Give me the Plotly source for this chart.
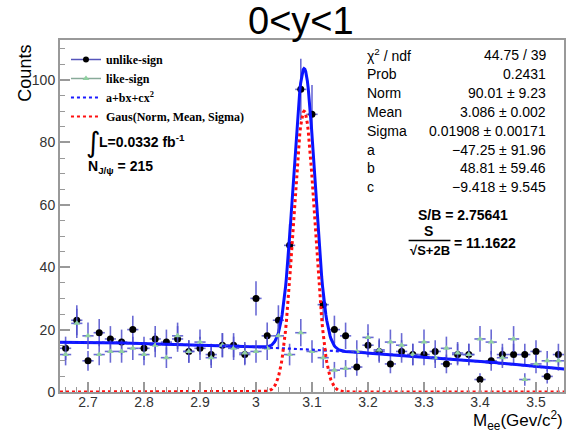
import numpy as np
import plotly.graph_objects as go

# ---------------- data ----------------
bin_centers = [round(2.66 + 0.02 * i, 2) for i in range(45)]
unlike_counts = [14, 23, 10, 19, 17, 16, 20, 14, 17, 16, 17, 13, 14, 12, 15, 15, 12, 30, 18, 23,
                 47, 97, 89, 28, 20, 18, 8, 15, 13, 9, 13, 12, 12, 13, 9, 12, 12, 4, 10, 12,
                 12, 12, 13, 5, 12]
like_counts = [12, 22, 18, 12, 13, 13, 14, 12, 15, 11, 18, 13, 16, 11, 15, 14, 12.5, 13, 14, 18,
               12, 19, 13, 11, 7, 7.5, 13, 17.5, 13.5, 16, 15, 12, 16, 11, 14, 12.5, 12, 17, 16, 11,
               17, 4, 9, 10, 10]
bin_half_width = 0.01

# fit parameters (from stats box)
fit_norm, fit_mean, fit_sigma = 90.01, 3.086, 0.01908
fit_a, fit_b, fit_c = -47.25, 48.81, -9.418

stat_labels = ["χ<sup>2</sup> / ndf", "Prob", "Norm", "Mean", "Sigma", "a", "b", "c"]
stat_values = ["44.75 / 39", "0.2431", "90.01 ± 9.23", "3.086 ± 0.002",
               "0.01908 ± 0.00171", "−47.25 ± 91.96", "48.81 ± 59.46", "−9.418 ± 9.545"]

legend_names = ["unlike-sign", "like-sign", "a+bx+cx<sup>2</sup>", "Gaus(Norm, Mean, Sigma)"]

x_ticks = [2.7, 2.8, 2.9, 3.0, 3.1, 3.2, 3.3, 3.4, 3.5]
x_tick_labels = ["2.7", "2.8", "2.9", "3", "3.1", "3.2", "3.3", "3.4", "3.5"]
y_ticks = [0, 20, 40, 60, 80, 100]

# ---------------- geometry ----------------
W, H = 568, 433
ML, MR, MT, MB = 60, 2, 40, 41
PW, PH = W - ML - MR, H - MT - MB


def px(x):
    return (x - ML) / PW


def py(y):
    return (H - MB - y) / PH


# fit curves evaluated on a grid
xg = np.linspace(2.65, 3.55, 600)
bkg = fit_a + fit_b * xg + fit_c * xg ** 2
gaus = fit_norm * np.exp(-0.5 * ((xg - fit_mean) / fit_sigma) ** 2)
total = bkg + gaus

err_col = "rgba(80,80,205,0.85)"

fig = go.Figure()

fig.add_trace(go.Scatter(
    x=bin_centers, y=unlike_counts, mode="markers", showlegend=False,
    marker=dict(color="black", size=7, symbol="circle"),
    error_y=dict(type="data", array=list(np.sqrt(unlike_counts)), color=err_col, thickness=1.6, width=0),
    error_x=dict(type="constant", value=bin_half_width, color=err_col, thickness=1.6, width=0),
))
fig.add_trace(go.Scatter(
    x=xg, y=total, mode="lines", showlegend=False,
    line=dict(color="#0a14ff", width=3),
))
fig.add_trace(go.Scatter(
    x=bin_centers, y=like_counts, mode="markers", showlegend=False,
    marker=dict(color="#8fd0a0", size=6, symbol="triangle-up"),
    error_y=dict(type="data", array=list(np.sqrt(like_counts)), color=err_col, thickness=1.6, width=0),
    error_x=dict(type="constant", value=bin_half_width, color=err_col, thickness=1.6, width=0),
))
fig.add_trace(go.Scatter(
    x=xg, y=bkg, mode="lines", showlegend=False,
    line=dict(color="#1a1aff", width=2.2, dash="dot"),
))
fig.add_trace(go.Scatter(
    x=xg, y=gaus, mode="lines", showlegend=False,
    line=dict(color="#ff1010", width=3, dash="dot"),
))

# legend entries
fig.add_trace(go.Scatter(x=[None], y=[None], mode="lines+markers", name="<b>%s</b>" % legend_names[0],
                         line=dict(color="#5555bb", width=1.5), marker=dict(color="black", size=6)))
fig.add_trace(go.Scatter(x=[None], y=[None], mode="lines+markers", name="<b>%s</b>" % legend_names[1],
                         line=dict(color="#88aa99", width=1.5),
                         marker=dict(color="#8fd0a0", size=6, symbol="triangle-up")))
fig.add_trace(go.Scatter(x=[None], y=[None], mode="lines", name="<b>%s</b>" % legend_names[2],
                         line=dict(color="#1a1aff", width=2.2, dash="dot")))
fig.add_trace(go.Scatter(x=[None], y=[None], mode="lines", name="<b>%s</b>" % legend_names[3],
                         line=dict(color="#ff1010", width=2.2, dash="dot")))

sans = "Liberation Sans, Arial, sans-serif"
annotations = []
# title
annotations.append(dict(text="0&lt;y&lt;1", x=px(302), y=py(21), xref="paper", yref="paper",
                        showarrow=False, font=dict(family=sans, size=38, color="black"),
                        xanchor="center", yanchor="middle"))
# stats
rows_y = [55 + 18.9 * i for i in range(len(stat_labels))]
for lab, val, ry in zip(stat_labels, stat_values, rows_y):
    annotations.append(dict(text=lab, x=px(366), y=py(ry), xref="paper", yref="paper", showarrow=False,
                            xanchor="left", yanchor="middle", font=dict(family=sans, size=14, color="black")))
    annotations.append(dict(text=val, x=px(550), y=py(ry), xref="paper", yref="paper", showarrow=False,
                            xanchor="right", yanchor="middle", font=dict(family=sans, size=14, color="black")))
# S/B
annotations.append(dict(text="<b>S/B = 2.75641</b>", x=px(417), y=py(215), xref="paper", yref="paper",
                        showarrow=False, xanchor="left", yanchor="middle",
                        font=dict(family=sans, size=14, color="black")))
annotations.append(dict(text="<b>S</b>", x=px(430), y=py(231), xref="paper", yref="paper",
                        showarrow=False, xanchor="center", yanchor="middle",
                        font=dict(family=sans, size=14, color="black")))
annotations.append(dict(text="<b>√S+2B</b>", x=px(431), y=py(250), xref="paper", yref="paper",
                        showarrow=False, xanchor="center", yanchor="middle",
                        font=dict(family=sans, size=13, color="black")))
annotations.append(dict(text="<b>= 11.1622</b>", x=px(454), y=py(243), xref="paper", yref="paper",
                        showarrow=False, xanchor="left", yanchor="middle",
                        font=dict(family=sans, size=14, color="black")))
# luminosity and yield
annotations.append(dict(text="∫", x=px(84), y=py(142), xref="paper", yref="paper",
                        showarrow=False, xanchor="left", yanchor="middle",
                        font=dict(family="DejaVu Sans", size=28, color="black")))
annotations.append(dict(text="<b>L=0.0332 fb<sup>-1</sup></b>", x=px(97), y=py(141), xref="paper", yref="paper",
                        showarrow=False, xanchor="left", yanchor="middle",
                        font=dict(family=sans, size=14, color="black")))
annotations.append(dict(text="<b>N<sub>J/ψ</sub> = 215</b>", x=px(86), y=py(167), xref="paper", yref="paper",
                        showarrow=False, xanchor="left", yanchor="middle",
                        font=dict(family=sans, size=14, color="black")))
# axis titles
annotations.append(dict(text="Counts", x=px(24), y=py(43), xref="paper", yref="paper",
                        showarrow=False, xanchor="center", yanchor="top", textangle=-90,
                        font=dict(family=sans, size=18, color="black")))
annotations.append(dict(text="M<sub>ee</sub>(Gev/c<sup>2</sup>)", x=px(567), y=py(421), xref="paper", yref="paper",
                        showarrow=False, xanchor="right", yanchor="middle",
                        font=dict(family=sans, size=17, color="black")))

shapes = [dict(type="line", xref="paper", yref="paper", x0=px(410), x1=px(452), y0=py(240.5), y1=py(240.5),
               line=dict(color="black", width=1.5))]

axis_common = dict(showgrid=False, zeroline=False, showline=True, linecolor="#999999", linewidth=2,
                   mirror=True, ticks="inside", tickcolor="#999999", tickwidth=1.5, ticklen=10,
                   tickfont=dict(family=sans, size=14, color="#333333"))

fig.update_layout(
    width=W, height=H, autosize=False,
    margin=dict(l=ML, r=MR, t=MT, b=MB, pad=0),
    paper_bgcolor="white", plot_bgcolor="white",
    xaxis=dict(range=[2.65, 3.55], tickvals=x_ticks, ticktext=x_tick_labels, ticklabelstandoff=-4,
               minor=dict(dtick=0.02, tick0=2.64, ticks="inside", ticklen=5, tickcolor="#999999", tickwidth=1.2),
               **axis_common),
    yaxis=dict(range=[0, PH / 3.12], tickvals=y_ticks,
               minor=dict(dtick=5, tick0=0, ticks="inside", ticklen=5, tickcolor="#999999", tickwidth=1.2),
               **axis_common),
    legend=dict(x=px(66), y=py(45), xanchor="left", yanchor="top", bgcolor="rgba(0,0,0,0)",
                font=dict(family="Liberation Serif, Times New Roman, serif", size=12, color="black"),
                tracegroupgap=0, itemwidth=30),
    annotations=annotations, shapes=shapes,
)

fig.write_html("out.html")
